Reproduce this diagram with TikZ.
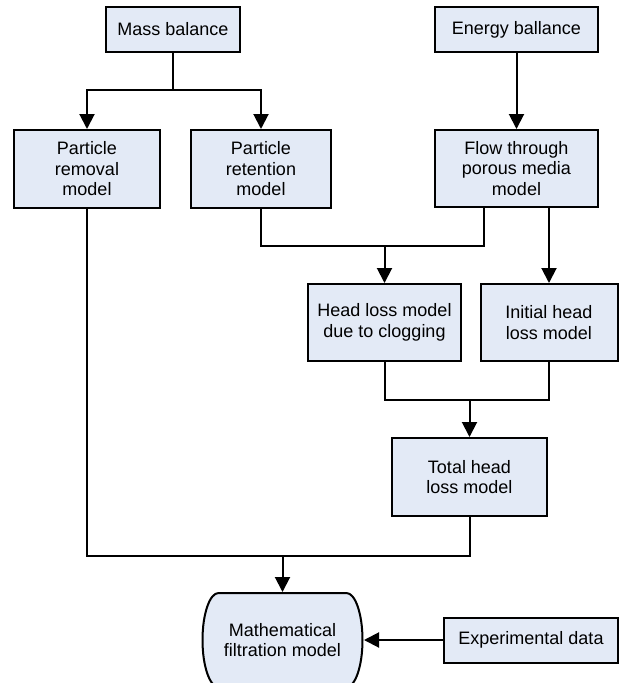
\documentclass[tikz,border=0pt]{standalone}
\usepackage{fontspec}
\setmainfont{Liberation Sans}
\usetikzlibrary{arrows.meta,calc}
\definecolor{boxblue}{RGB}{227,234,246}

\begin{document}
\begin{tikzpicture}
[x=1pt, y=1pt, every node/.style={inner sep=0pt},
 box/.style={rectangle, draw=black, fill=boxblue, line width=2pt, align=center, font=\fontsize{18}{20.5}\selectfont},
 link/.style={line width=2pt, draw=black},
 arrow/.style={link, -{Triangle[width=15pt,length=15pt]}}]
\useasboundingbox (0,0) rectangle (619,-683);
\node (mass) [box, minimum width=134pt, minimum height=45pt] at (173, -29.5) {Mass balance};
\node (energy) [box, minimum width=163pt, minimum height=45pt] at (516.5, -29.5) {Energy ballance};
\node (removal) [box, minimum width=146pt, minimum height=78pt] at (87, -169) {Particle\\removal\\model};
\node (retention) [box, minimum width=140pt, minimum height=78pt] at (261, -169) {Particle\\retention\\model};
\node (flow) [box, minimum width=163pt, minimum height=77pt] at (516.5, -168.5) {Flow through\\porous media\\model};
\node (clog) [box, minimum width=153pt, minimum height=77pt] at (384.5, -322.5) {Head loss model\\due to clogging};
\node (initial) [box, minimum width=137pt, minimum height=77pt] at (549, -322.5) {Initial head\\loss model};
\node (total) [box, minimum width=155pt, minimum height=78pt] at (469.5, -477) {Total head\\loss model};
\node (expdata) [box, minimum width=174pt, minimum height=45pt] at (531, -640) {Experimental data};
% terminator outline
\filldraw [fill=boxblue, line width=2pt] (218.5,-593) -- (346.5,-593)
  arc[start angle=90, end angle=-90, x radius=16, y radius=47] -- (218.5,-687)
  arc[start angle=270, end angle=90, x radius=16, y radius=47] -- cycle;
\node (math) [box, draw=none, fill=none, minimum width=161pt, minimum height=94pt] at (282.5, -640) {Mathematical\\filtration model};

\coordinate (split) at (173, -90);
\coordinate (join1) at (384.5, -246);
\coordinate (join2) at (469.5, -400);
\coordinate (join3) at (282.5, -556);

\draw [link] (mass) -- (split);
\draw [arrow] (split) -| (removal);
\draw [arrow] (split) -| (retention);
\draw [arrow] (energy) -- (flow);
\draw [link] (retention) |- (join1) -| ($(flow.south)+(-32.5,0)$);
\draw [arrow] (join1) -- (clog);
\draw [arrow] ($(flow.south)+(32.5,0)$) -- (initial);
\draw [link] (clog) |- (join2) -| (initial);
\draw [arrow] (join2) -- (total);
\draw [link] (removal) |- (join3) -| (total);
\draw [arrow] (join3) -- (math);
\draw [arrow] (expdata) -- (math);
\end{tikzpicture}
\end{document}
